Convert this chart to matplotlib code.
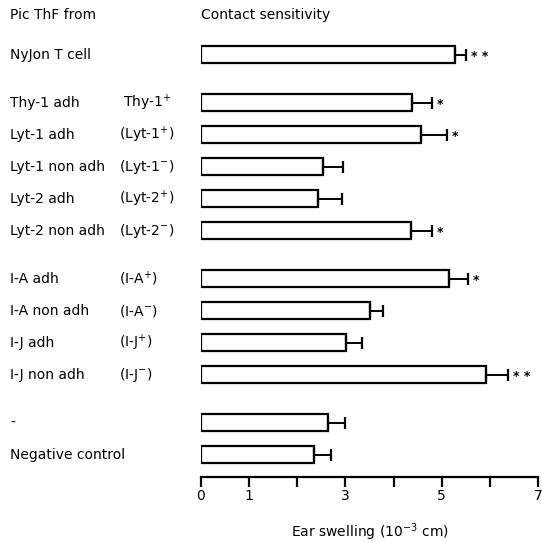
import matplotlib

matplotlib.use("Agg")
import matplotlib.pyplot as plt
import matplotlib.transforms as mtransforms
import numpy as np

plt.rcParams["font.family"] = ["DejaVu Sans"]
plt.rcParams["mathtext.default"] = "regular"

# data
cell_labels = ["NyJon T cell", "Thy-1 adh", "Lyt-1 adh", "Lyt-1 non adh", "Lyt-2 adh",
               "Lyt-2 non adh", "I-A adh", "I-A non adh", "I-J adh", "I-J non adh",
               "-", "Negative control"]
phenotype_labels = ["", " Thy-1$^{+}$", "(Lyt-1$^{+}$)", "(Lyt-1$^{-}$)", "(Lyt-2$^{+}$)",
                    "(Lyt-2$^{-}$)", "(I-A$^{+}$)", "(I-A$^{-}$)", "(I-J$^{+}$)",
                    "(I-J$^{-}$)", "", ""]
groups = [0, 1, 1, 1, 1, 1, 2, 2, 2, 2, 3, 3]
swelling = [5.27, 4.38, 4.56, 2.54, 2.43, 4.37, 5.15, 3.51, 3.01, 5.91, 2.64, 2.34]
sem = [0.24, 0.41, 0.54, 0.40, 0.50, 0.43, 0.40, 0.27, 0.33, 0.47, 0.36, 0.37]
stars = ["* *", "*", "*", "", "", "*", "*", "", "", "* *", "", ""]
x_ticks = [0, 1, 2, 3, 4, 5, 6, 7]
x_ticklabels = ["0", "1", "", "3", "", "5", "", "7"]

pos = np.arange(len(cell_labels)) + 0.5 * np.array(groups)

fig = plt.figure(figsize=(5.42, 5.43), dpi=100)
ax = fig.add_axes([201 / 542, 1 - 477 / 543, 337 / 542, 470 / 543])

ax.barh(pos, swelling, height=0.53, color="white", edgecolor="black", linewidth=1.6)
ax.errorbar(swelling, pos, xerr=[np.zeros(len(sem)), sem], fmt="none",
            ecolor="black", elinewidth=1.4, capsize=4.5, capthick=1.6)

for p, v, e, s in zip(pos, swelling, sem, stars):
    if s:
        ax.text(v + e + 0.1, p + 0.05, s, ha="left", va="center", fontsize=9,
                fontweight="bold")

ax.set_xlim(0, 7)
ax.set_ylim(13.2, -1.5)
ax.set_xticks(x_ticks)
ax.set_xticklabels(x_ticklabels, fontsize=10)
ax.set_yticks([])
for side in ["left", "right", "top"]:
    ax.spines[side].set_visible(False)
ax.spines["bottom"].set_linewidth(1.6)
ax.tick_params(axis="x", direction="out", length=7, width=1.6, pad=2)
ax.set_xlabel("Ear swelling (10$^{-3}$ cm)", fontsize=10, labelpad=13)

trans = mtransforms.blended_transform_factory(fig.transFigure, ax.transData)
for p, a, b in zip(pos, cell_labels, phenotype_labels):
    ax.text(10 / 542, p, a, transform=trans, ha="left", va="center", fontsize=10)
    if b:
        ax.text(119 / 542, p, b, transform=trans, ha="left", va="center", fontsize=10)

ax.text(10 / 542, -1.25, "Pic ThF from", transform=trans, ha="left", va="center",
        fontsize=10)
ax.text(0, -1.25, "Contact sensitivity", ha="left", va="center", fontsize=10)

fig.savefig("out.png", dpi=100)
